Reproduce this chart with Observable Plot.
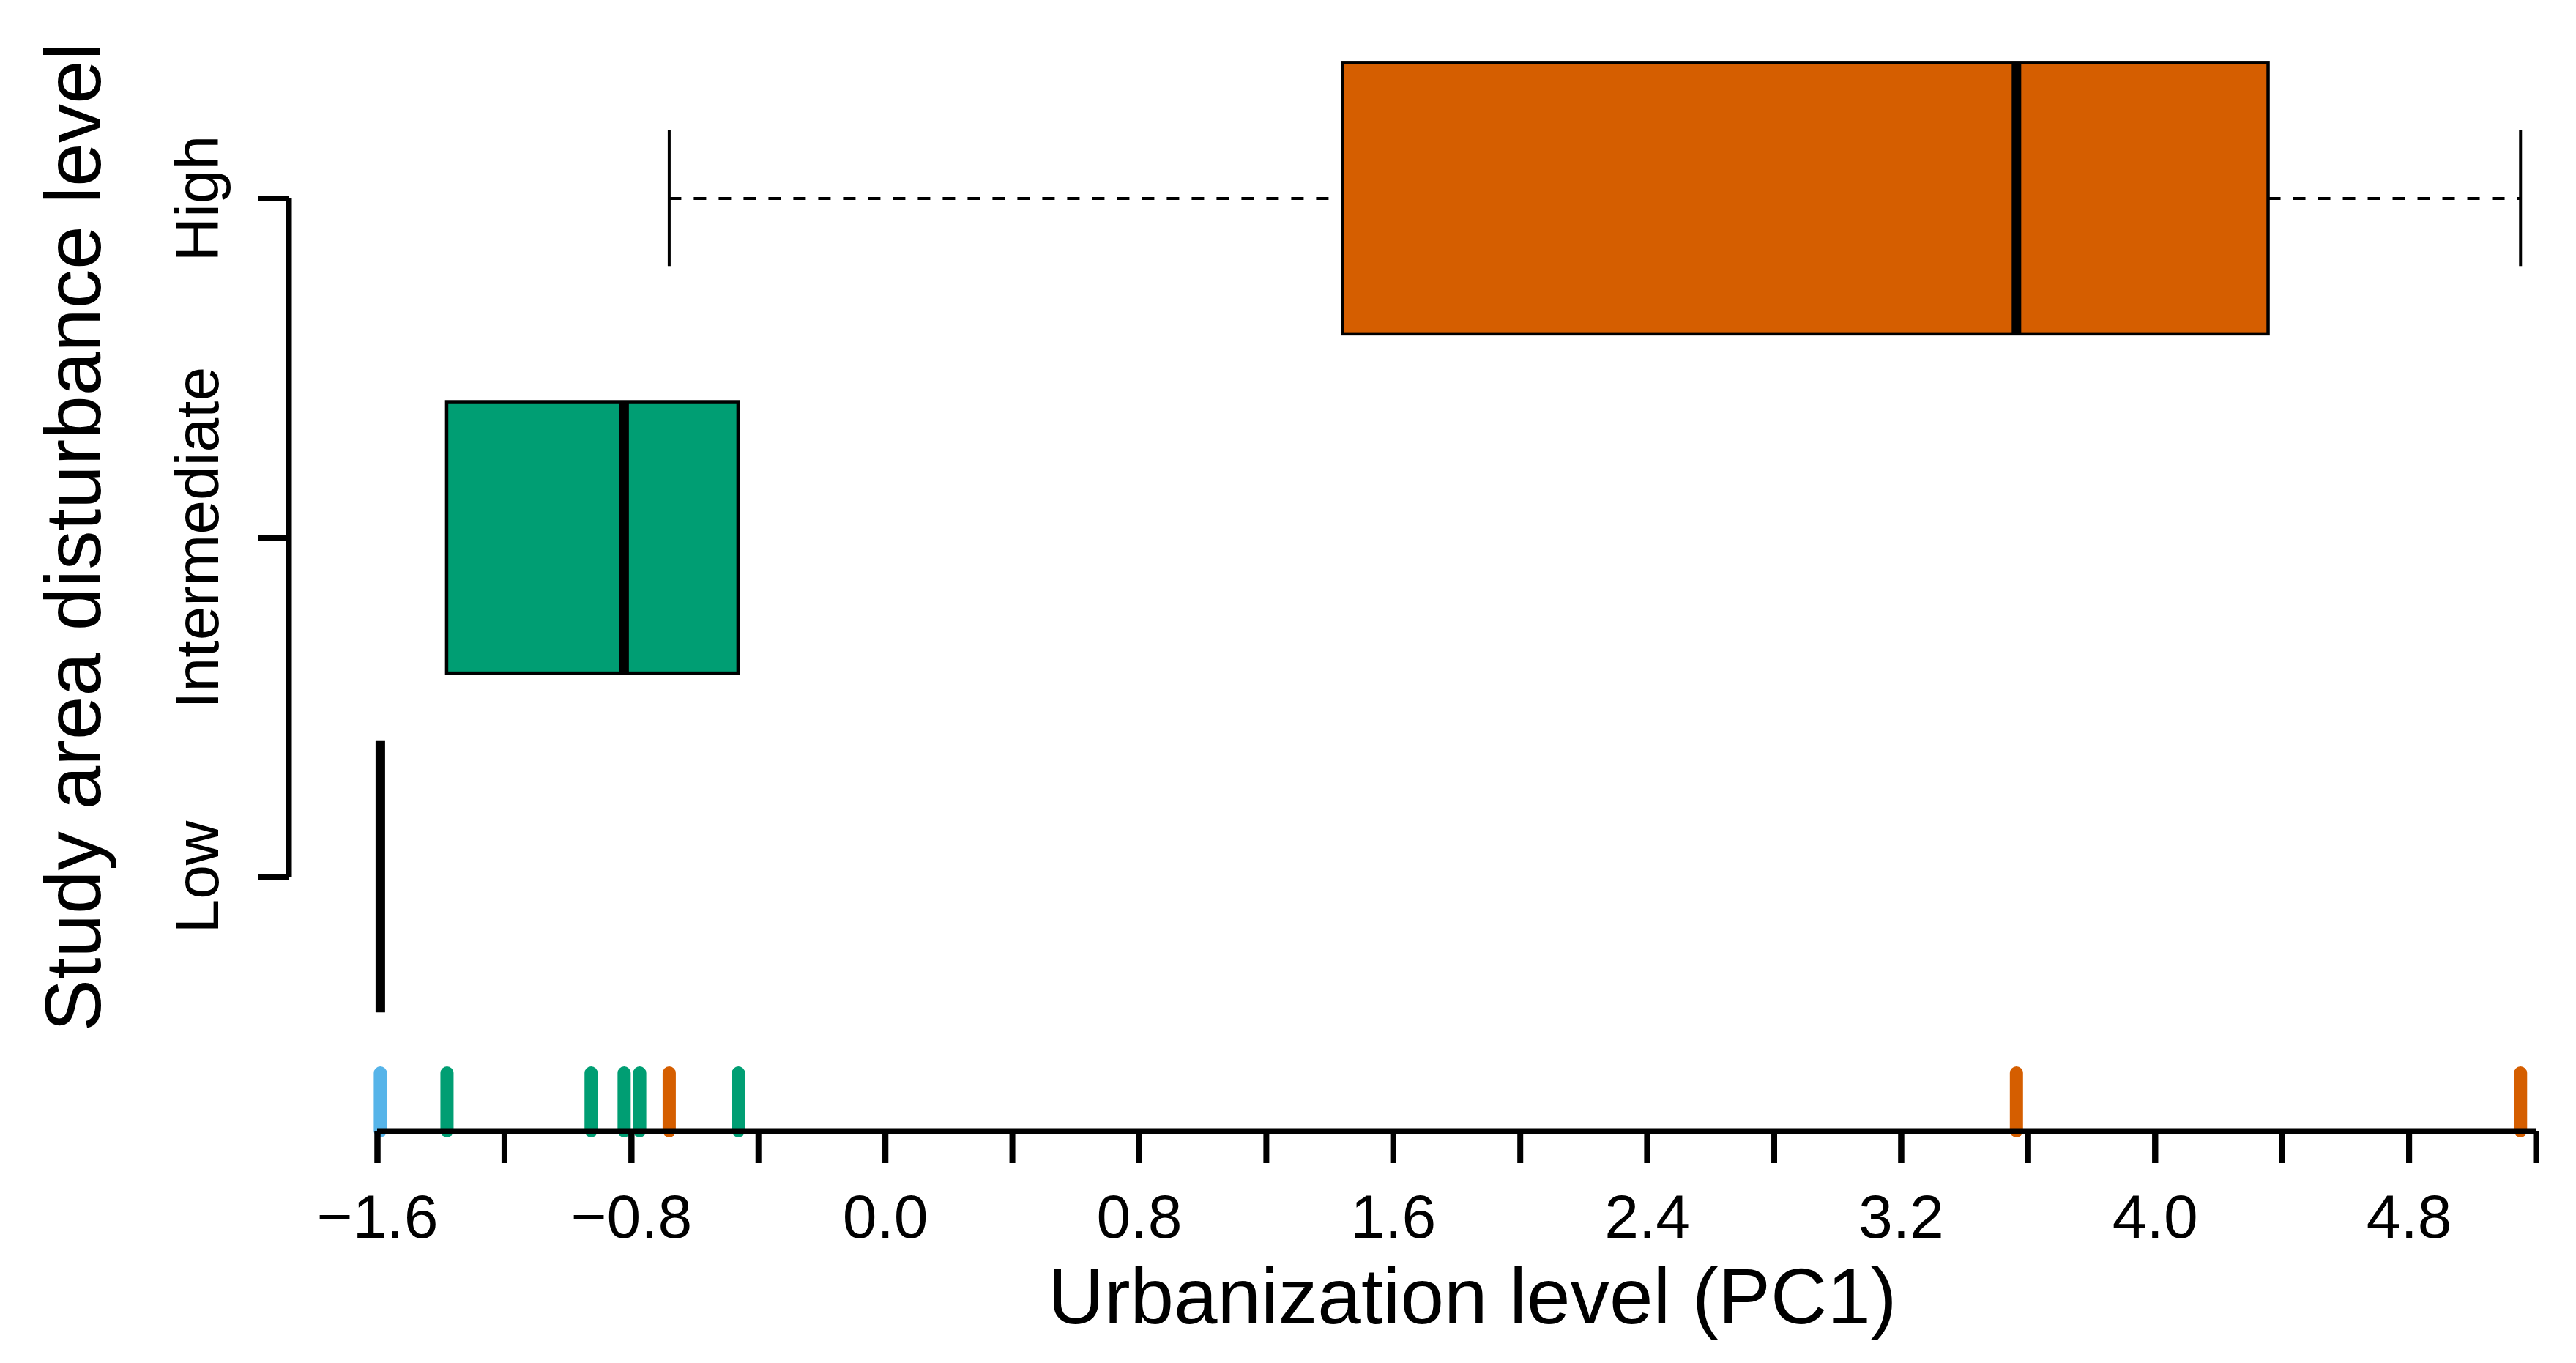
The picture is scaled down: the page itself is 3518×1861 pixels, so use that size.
<!DOCTYPE html>
<html>
<head>
<meta charset="utf-8">
<script src="https://cdn.jsdelivr.net/npm/d3@7"></script>
<script src="https://cdn.jsdelivr.net/npm/@observablehq/plot@0.6"></script>
<style>
  html, body { margin: 0; padding: 0; background: #fff; }
  svg { display: block; }
</style>
</head>
<body>
<div id="chart"></div>
<script>
// ---- Data ----
const groups = ["Low", "Intermediate", "High"];
const groupColors = ["#56B4E9", "#009E73", "#D55E00"];
const whiskerLow  = [-1.591, -1.381, -0.681];
const boxQ1       = [-1.591, -1.381,  1.441];
const boxMedian   = [-1.591, -0.823,  3.563];
const boxQ3       = [-1.591, -0.463,  4.357];
const whiskerHigh = [-1.591, -0.463,  5.151];

const rugValues = [-1.591, -1.381, -0.927, -0.823, -0.774, -0.681, -0.463, 3.563, 5.151];
const rugGroups = ["Low", "Intermediate", "Intermediate", "Intermediate", "Intermediate", "High", "Intermediate", "High", "High"];

const xTicks = [-1.6, -1.2, -0.8, -0.4, 0.0, 0.4, 0.8, 1.2, 1.6, 2.0, 2.4, 2.8, 3.2, 3.6, 4.0, 4.4, 4.8, 5.2];
const xLabelTicks = [-1.6, -0.8, 0.0, 0.8, 1.6, 2.4, 3.2, 4.0, 4.8];
const xTickLabels = ["\u22121.6", "\u22120.8", "0.0", "0.8", "1.6", "2.4", "3.2", "4.0", "4.8"];
const xLimits = [-1.6, 5.2];
const xTitle = "Urbanization level (PC1)";
const yTitle = "Study area disturbance level";

// ---- Tables built from the arrays ----
const stats = groups.map((g, i) => ({
  group: g, pos: i + 1, color: groupColors[i],
  lo: whiskerLow[i], q1: boxQ1[i], median: boxMedian[i], q3: boxQ3[i], hi: whiskerHigh[i]
}));
const rug = rugValues.map((v, i) => ({value: v, color: groupColors[groups.indexOf(rugGroups[i])]}));

// ---- Layout ----
const W = 3518, H = 1861;
const mTop = 0, mBottom = 317;
const frameH = H - mTop - mBottom;
const halfBox = 0.4, halfCap = 0.2;
const yDomain = [0.2509, 3.5842];
const font = "Liberation Sans, Arial, Helvetica, sans-serif";

const chart = Plot.plot({
  width: W, height: H,
  marginLeft: 515, marginRight: 55, marginTop: mTop, marginBottom: mBottom,
  x: {domain: xLimits},
  y: {domain: yDomain},
  color: {type: "identity"},
  style: {fontFamily: font, background: "white", color: "black"},
  marks: [
    // whiskers (dashed)
    Plot.ruleY(stats, {y: "pos", x1: "lo", x2: "q1", stroke: "black", strokeWidth: 4, strokeDasharray: "17,17"}),
    Plot.ruleY(stats, {y: "pos", x1: "q3", x2: "hi", stroke: "black", strokeWidth: 4, strokeDasharray: "17,17"}),
    // whisker caps
    Plot.ruleX(stats, {x: "lo", y1: d => d.pos - halfCap, y2: d => d.pos + halfCap, stroke: "black", strokeWidth: 4}),
    Plot.ruleX(stats, {x: "hi", y1: d => d.pos - halfCap, y2: d => d.pos + halfCap, stroke: "black", strokeWidth: 4}),
    // boxes
    Plot.rect(stats, {x1: "q1", x2: "q3", y1: d => d.pos - halfBox, y2: d => d.pos + halfBox,
      fill: "color", stroke: "black", strokeWidth: 4.5}),
    // medians
    Plot.ruleX(stats, {x: "median", y1: d => d.pos - halfBox, y2: d => d.pos + halfBox, stroke: "black", strokeWidth: 13}),
    // rug
    Plot.ruleX(rug, {x: "value", stroke: "color", strokeWidth: 18, strokeLinecap: "round", insetTop: frameH - 79}),
    // x axis line
    Plot.ruleY([yDomain[0]], {stroke: "black", strokeWidth: 8}),
    // x axis ticks (all)
    Plot.ruleX(xTicks, {stroke: "black", strokeWidth: 8, insetTop: frameH, insetBottom: -44}),
    // x axis labels
    Plot.axisX({ticks: xLabelTicks, tickSize: 44, tickPadding: 42, strokeWidth: 8,
      tickFormat: d => xTickLabels[xLabelTicks.indexOf(d)], fontSize: 84, label: null, fill: "black", stroke: "black"}),
    // y axis line + ticks
    Plot.ruleX([xLimits[0]], {y1: () => 1, y2: () => groups.length, dx: -121, stroke: "black", strokeWidth: 8}),
    Plot.axisY({ticks: stats.map(d => d.pos), tickSize: 42, dx: -121, strokeWidth: 8,
      tickFormat: null, text: null, label: null, stroke: "black"}),
    // y tick labels (rotated)
    Plot.text(stats, {y: "pos", text: "group", frameAnchor: "left", dx: -218, rotate: -90,
      textAnchor: "middle", lineAnchor: "bottom", fontSize: 84, fill: "black"}),
    // axis titles
    Plot.text([xTitle], {frameAnchor: "bottom", dx: 21, dy: 262, textAnchor: "middle", lineAnchor: "bottom",
      fontSize: 107, fill: "black"}),
    Plot.text([yTitle], {frameAnchor: "left", dx: -379, dy: -39, rotate: -90, textAnchor: "middle",
      lineAnchor: "bottom", fontSize: 107, fill: "black"})
  ]
});
document.getElementById("chart").appendChild(chart);
</script>
</body>
</html>
